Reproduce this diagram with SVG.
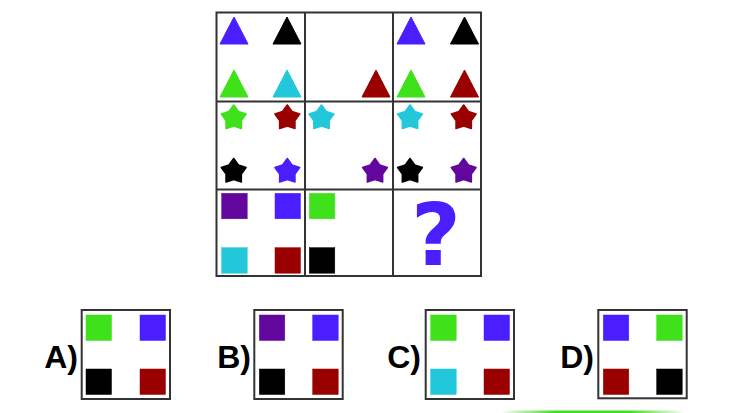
<svg xmlns="http://www.w3.org/2000/svg" xmlns:xlink="http://www.w3.org/1999/xlink" width="730" height="413" viewBox="0 0 730 413">
<defs>
<style>
.frame{fill:none;stroke:#333;stroke-width:2}
.lbl{font-family:"Liberation Sans",Arial,sans-serif;font-weight:bold;font-size:32px;fill:#000;text-anchor:end}
.q{font-family:"DejaVu Sans",sans-serif;font-weight:bold;font-size:86px;fill:#4a1eff;text-anchor:middle}
.bl{fill:#4a1eff;stroke:#4a1eff}
.bk{fill:#000;stroke:#000}
.gr{fill:#3ee11a;stroke:#3ee11a}
.cy{fill:#22c8da;stroke:#22c8da}
.rd{fill:#9a0000;stroke:#9a0000}
.pu{fill:#62069e;stroke:#62069e}
.st{stroke-width:1.6;stroke-linejoin:round}
.sq{stroke-width:0.5}
</style>
<path id="star" d="M0,-13 L4.70,-6.47 L12.36,-4.02 L7.61,2.47 L7.64,10.52 L0,8 L-7.64,10.52 L-7.61,2.47 L-12.36,-4.02 L-4.70,-6.47 Z"/>
<polygon id="tri" points="14,0 28,27 0,27"/>
<rect id="sq" width="25.5" height="25.5"/>
<linearGradient id="gl" x1="0" x2="1" y1="0" y2="0">
<stop offset="0" stop-color="#3ee11a" stop-opacity="0"/>
<stop offset="0.3" stop-color="#3ee11a"/>
<stop offset="0.7" stop-color="#3ee11a"/>
<stop offset="1" stop-color="#3ee11a" stop-opacity="0"/>
</linearGradient>
</defs>
<rect width="730" height="413" fill="#fff"/>
<g id="grid">
<rect class="frame" x="216.5" y="12.5" width="264.5" height="263.5"/>
<line class="frame" x1="305" y1="12.5" x2="305" y2="276"/>
<line class="frame" x1="393" y1="12.5" x2="393" y2="276"/>
<line class="frame" x1="216.5" y1="101.5" x2="481" y2="101.5"/>
<line class="frame" x1="216.5" y1="189.5" x2="481" y2="189.5"/>
</g>
<g id="cell-r1c1">
<use href="#tri" class="bl" x="220" y="17"/>
<use href="#tri" class="bk" x="273" y="17"/>
<use href="#tri" class="gr" x="220" y="70"/>
<use href="#tri" class="cy" x="273" y="70"/>
</g>
<g id="cell-r1c2">
<use href="#tri" class="rd" x="362" y="70"/>
</g>
<g id="cell-r1c3">
<use href="#tri" class="bl" x="397" y="17"/>
<use href="#tri" class="bk" x="450.5" y="17"/>
<use href="#tri" class="gr" x="397" y="70"/>
<use href="#tri" class="rd" x="450.5" y="70"/>
</g>
<g id="cell-r2c1">
<use href="#star" class="gr st" x="233.7" y="118"/>
<use href="#star" class="rd st" x="287.3" y="118"/>
<use href="#star" class="bk st" x="233.7" y="171.5"/>
<use href="#star" class="bl st" x="287.3" y="171.5"/>
</g>
<g id="cell-r2c2">
<use href="#star" class="cy st" x="321.5" y="118"/>
<use href="#star" class="pu st" x="375" y="171.5"/>
</g>
<g id="cell-r2c3">
<use href="#star" class="cy st" x="410" y="118"/>
<use href="#star" class="rd st" x="463.7" y="118"/>
<use href="#star" class="bk st" x="410" y="171.5"/>
<use href="#star" class="pu st" x="463.7" y="171.5"/>
</g>
<g id="cell-r3c1">
<use href="#sq" class="pu sq" x="221.7" y="193.3"/>
<use href="#sq" class="bl sq" x="275" y="193.3"/>
<use href="#sq" class="cy sq" x="221.7" y="247.7"/>
<use href="#sq" class="rd sq" x="275" y="247.7"/>
</g>
<g id="cell-r3c2">
<use href="#sq" class="gr sq" x="309.3" y="193.3"/>
<use href="#sq" class="bk sq" x="309.3" y="247.7"/>
</g>
<g id="cell-r3c3">
<text class="q" x="436" y="265">?</text>
</g>
<g id="option-a">
<text class="lbl" x="78" y="368">A)</text>
<rect class="frame" x="81.7" y="310" width="88.3" height="89"/>
<use href="#sq" class="gr sq" x="86" y="315"/>
<use href="#sq" class="bl sq" x="140" y="315"/>
<use href="#sq" class="bk sq" x="86" y="369"/>
<use href="#sq" class="rd sq" x="140" y="369"/>
</g>
<g id="option-b">
<text class="lbl" x="251" y="368">B)</text>
<rect class="frame" x="254.3" y="310" width="88.4" height="89"/>
<use href="#sq" class="pu sq" x="259.3" y="315"/>
<use href="#sq" class="bl sq" x="312.7" y="315"/>
<use href="#sq" class="bk sq" x="259.3" y="369"/>
<use href="#sq" class="rd sq" x="312.7" y="369"/>
</g>
<g id="option-c">
<text class="lbl" x="421" y="368">C)</text>
<rect class="frame" x="425.7" y="310" width="88.3" height="89"/>
<use href="#sq" class="gr sq" x="430.7" y="315"/>
<use href="#sq" class="bl sq" x="484" y="315"/>
<use href="#sq" class="cy sq" x="430.7" y="369"/>
<use href="#sq" class="rd sq" x="484" y="369"/>
</g>
<g id="option-d">
<text class="lbl" x="594" y="368">D)</text>
<rect class="frame" x="598.3" y="310" width="88.4" height="88.3"/>
<use href="#sq" class="bl sq" x="603.3" y="315"/>
<use href="#sq" class="gr sq" x="656.7" y="315"/>
<use href="#sq" class="rd sq" x="603.3" y="369"/>
<use href="#sq" class="bk sq" x="656.7" y="369"/>
</g>
<rect x="500" y="410.5" width="185" height="2.5" fill="url(#gl)"/>
</svg>
